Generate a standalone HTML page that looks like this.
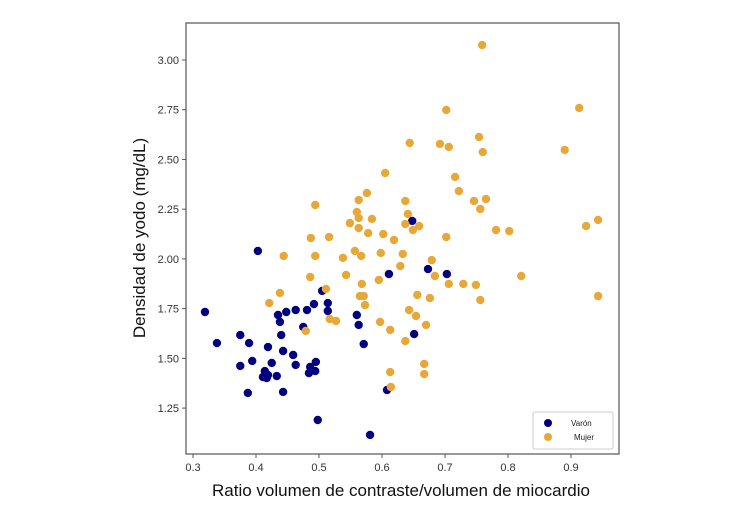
<!DOCTYPE html>
<html><head><meta charset="utf-8"><style>
body{margin:0;background:#fff;}
svg{display:block;font-family:"Liberation Sans",sans-serif;}
</style></head><body>
<svg id="chart" width="750" height="510">
<rect x="186" y="23" width="433" height="431" fill="#fff" stroke="#555" stroke-width="1.2"/>
<g id="ticks"></g>
<g id="points"></g>
<text x="401" y="496" font-size="17" text-anchor="middle" fill="#111">Ratio volumen de contraste/volumen de miocardio</text>
<text transform="translate(145,238) rotate(-90)" font-size="17" text-anchor="middle" fill="#111">Densidad de yodo (mg/dL)</text>
<g>
<rect x="533" y="412" width="80" height="37" rx="2" fill="#fff" stroke="#ccc"/>
<circle cx="548" cy="423" r="4" fill="#000080"/>
<text x="571" y="426" font-size="8" fill="#222">Varón</text>
<circle cx="548" cy="437" r="4" fill="#E8A838"/>
<text x="574" y="440" font-size="8" fill="#222">Mujer</text>
</g>
</svg>
<script>
const xTicks=[0.3,0.4,0.5,0.6,0.7,0.8,0.9];
const yTicks=[1.25,1.5,1.75,2.0,2.25,2.5,2.75,3.0];
const varonX=[0.319,0.338,0.375,0.389,0.375,0.394,0.387,0.403,0.419,0.414,0.411,0.417,0.419,0.433,0.425,0.435,0.438,0.448,0.440,0.443,0.459,0.463,0.443,0.463,0.481,0.475,0.492,0.486,0.484,0.494,0.495,0.505,0.514,0.514,0.498,0.560,0.563,0.571,0.581,0.611,0.608,0.648,0.651,0.673,0.703];
const varonY=[1.733,1.577,1.617,1.577,1.462,1.487,1.326,2.040,1.557,1.436,1.406,1.401,1.416,1.411,1.477,1.718,1.683,1.733,1.617,1.537,1.517,1.467,1.331,1.743,1.743,1.658,1.773,1.457,1.426,1.436,1.482,1.839,1.778,1.738,1.190,1.718,1.668,1.572,1.115,1.924,1.341,2.191,1.622,1.949,1.924];
const mujerX=[0.494,0.421,0.438,0.444,0.486,0.487,0.494,0.479,0.511,0.516,0.517,0.527,0.538,0.543,0.549,0.557,0.563,0.576,0.560,0.563,0.563,0.567,0.578,0.584,0.568,0.565,0.571,0.573,0.595,0.598,0.602,0.619,0.633,0.629,0.597,0.613,0.613,0.614,0.637,0.641,0.637,0.649,0.659,0.679,0.684,0.656,0.676,0.643,0.654,0.670,0.637,0.667,0.667,0.759,0.702,0.913,0.692,0.706,0.754,0.760,0.890,0.716,0.722,0.746,0.765,0.756,0.781,0.802,0.702,0.924,0.943,0.706,0.729,0.749,0.756,0.821,0.943,0.644,0.605];
const mujerY=[2.271,1.778,1.829,2.015,1.909,2.105,2.015,1.638,1.849,2.110,1.698,1.688,2.005,1.919,2.180,2.040,2.296,2.331,2.236,2.206,2.155,2.015,2.130,2.201,1.874,1.813,1.813,1.768,1.894,2.030,2.125,2.095,2.025,1.964,1.683,1.643,1.431,1.356,2.291,2.226,2.175,2.145,2.165,1.994,1.914,1.819,1.803,1.743,1.713,1.668,1.587,1.472,1.421,3.075,2.749,2.759,2.578,2.563,2.613,2.537,2.548,2.412,2.341,2.291,2.301,2.251,2.145,2.140,2.110,2.165,2.196,1.874,1.874,1.869,1.793,1.914,1.813,2.583,2.432];
const NS='http://www.w3.org/2000/svg';
function sx(v){return 193+(v-0.3)*630;}
function sy(v){return 60+(3-v)*198.9;}
const tg=document.getElementById('ticks');
xTicks.forEach(t=>{
  const l=document.createElementNS(NS,'line');
  l.setAttribute('x1',sx(t));l.setAttribute('x2',sx(t));l.setAttribute('y1',454);l.setAttribute('y2',458);l.setAttribute('stroke','#555');
  
  
  tg.appendChild(l);
  const tx=document.createElementNS(NS,'text');
  tx.setAttribute('x',sx(t));tx.setAttribute('y',471);tx.setAttribute('font-size','11');tx.setAttribute('text-anchor','middle');tx.setAttribute('fill','#333');
  tx.textContent=t.toFixed(1);
  
  
  tg.appendChild(tx);
});
yTicks.forEach(t=>{
  const l=document.createElementNS(NS,'line');
  l.setAttribute('x1',182);l.setAttribute('x2',186);l.setAttribute('y1',sy(t));l.setAttribute('y2',sy(t));l.setAttribute('stroke','#555');
  
  
  tg.appendChild(l);
  const tx=document.createElementNS(NS,'text');
  tx.setAttribute('x',179);tx.setAttribute('y',sy(t)+4);tx.setAttribute('font-size','11');tx.setAttribute('text-anchor','end');tx.setAttribute('fill','#333');
  tx.textContent=t.toFixed(2);
  
  
  tg.appendChild(tx);
});
const pg=document.getElementById('points');
function plot(xs,ys,color,name){
  xs.forEach((x,i)=>{
    const c=document.createElementNS(NS,'circle');
    c.setAttribute('cx',sx(x));c.setAttribute('cy',sy(ys[i]));c.setAttribute('r',4.2);c.setAttribute('fill',color);
    
    
    pg.appendChild(c);
  });
}
plot(varonX,varonY,'#000080','point-varon');
plot(mujerX,mujerY,'#E8A838','point-mujer');
</script>
</body></html>
